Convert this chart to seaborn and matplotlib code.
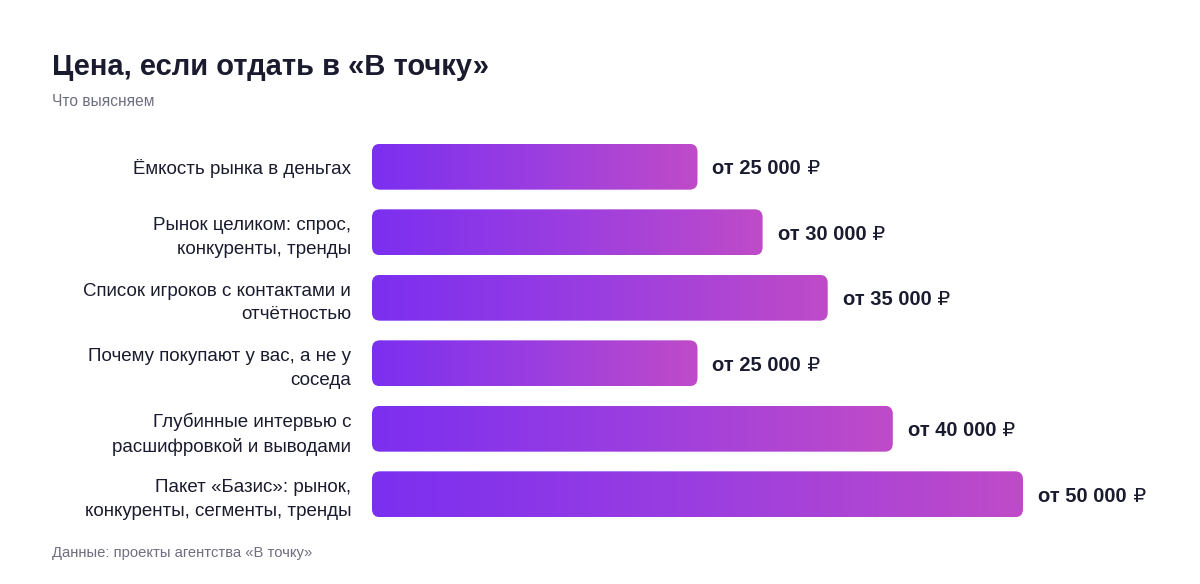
import numpy as np
import pandas as pd
import seaborn as sns
import matplotlib.pyplot as plt
from matplotlib.colors import LinearSegmentedColormap
from matplotlib.patches import FancyBboxPatch


services = [
    "Ёмкость рынка в деньгах",
    "Рынок целиком: спрос,\nконкуренты, тренды",
    "Список игроков с контактами и\nотчётностью",
    "Почему покупают у вас, а не у\nсоседа",
    "Глубинные интервью с\nрасшифровкой и выводами",
    "Пакет «Базис»: рынок,\nконкуренты, сегменты, тренды",
]
prices = [25000, 30000, 35000, 25000, 40000, 50000]
price_labels = ["от 25 000", "от 30 000", "от 35 000",
                "от 25 000", "от 40 000", "от 50 000"]
CURRENCY = "₽"

TITLE = "Цена, если отдать в «В точку»"
SUBTITLE = "Что выясняем"
SOURCE = "Данные: проекты агентства «В точку»"

DARK = "#1b1b2f"
GREY = "#6e6e80"
grad = LinearSegmentedColormap.from_list("vt", ["#7b2ff0", "#9b3ee0", "#bf4bc8"])


def main():
    sns.set_theme(style="white")
    plt.rcParams["font.family"] = ["Liberation Sans", "DejaVu Sans"]

    df = pd.DataFrame({"service": services, "price": prices})

    fig = plt.figure(figsize=(12, 5.84), dpi=100)
    W, H = 1200, 584
    # axes spans bar area: x 372..1023 px, y bands 134..527 px
    ax = fig.add_axes([372 / W, 1 - 527 / H, 651 / W, 393 / H])

    sns.barplot(data=df, x="price", y="service", orient="h", ax=ax,
                width=0.70, color="#7b2ff0")
    ax.set_xlim(0, 50000)
    ax.set_ylim(len(services) - 0.5, -0.5)

    # unit-per-pixel ratios for rounded corners
    x_per_px = 50000 / 651
    y_per_px = len(services) / 393
    radius_px = 8

    for bar in list(ax.patches):
        x0, y0 = bar.get_x(), bar.get_y()
        w, h = bar.get_width(), bar.get_height()
        bar.set_visible(False)
        box = FancyBboxPatch((x0, y0), w, h,
                             boxstyle=f"round,pad=0,rounding_size={radius_px * x_per_px}",
                             mutation_aspect=y_per_px / x_per_px,
                             facecolor="none", edgecolor="none")
        ax.add_patch(box)
        im = ax.imshow(np.linspace(0, 1, 256).reshape(1, -1), cmap=grad,
                       extent=(x0, x0 + w, y0 + h, y0), aspect="auto",
                       interpolation="bicubic", zorder=2)
        im.set_clip_path(box)

    ax.set_xlim(0, 50000)
    ax.set_ylim(len(services) - 0.5, -0.5)

    for i, (p, lab) in enumerate(zip(prices, price_labels)):
        t = ax.text(p + 15 * x_per_px, i + 0.03, lab, va="center", ha="left",
                    fontsize=14.5, fontweight="bold", color=DARK, clip_on=False)
        ax.annotate(" " + CURRENCY, xy=(1, 0.5), xycoords=t, va="center",
                    ha="left", fontsize=14.5, color=DARK,
                    family=["DejaVu Sans"], annotation_clip=False)

    ax.set_xlabel("")
    ax.set_ylabel("")
    ax.set_xticks([])
    ax.tick_params(axis="y", length=0, pad=15, labelsize=13.5, labelcolor=DARK)
    for t in ax.get_yticklabels():
        t.set_linespacing(1.5)
    sns.despine(ax=ax, left=True, bottom=True)

    fig.text(52 / W, 1 - 67 / H, TITLE, fontsize=21, fontweight="bold",
             color=DARK, va="center", ha="left")
    fig.text(52 / W, 1 - 102 / H, SUBTITLE, fontsize=11.2, color=GREY,
             va="center", ha="left")
    fig.text(52 / W, 1 - 553 / H, SOURCE, fontsize=10.6, color=GREY,
             va="center", ha="left")

    fig.savefig("out.png", dpi=100, facecolor="white")
    plt.close("all")


if __name__ == "__main__":
    main()
